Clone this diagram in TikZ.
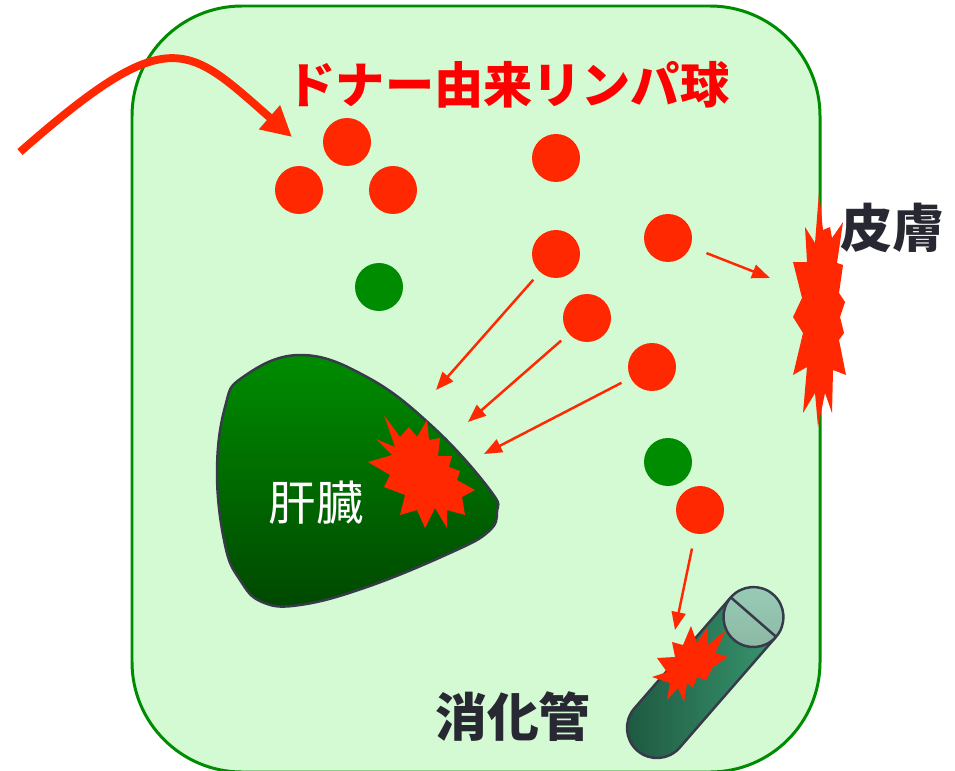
\documentclass[tikz,border=0pt]{standalone}
\usepackage{fontspec}
\setmainfont{Noto Sans CJK JP}
\usetikzlibrary{arrows.meta}

\definecolor{panelfill}{RGB}{212,250,212}
\definecolor{panelline}{RGB}{0,140,0}
\definecolor{cellred}{RGB}{255,40,0}
\definecolor{cellgreen}{RGB}{0,140,0}
\definecolor{titlered}{RGB}{255,0,0}
\definecolor{organline}{RGB}{55,58,72}
\definecolor{livertop}{RGB}{0,140,0}
\definecolor{liverbottom}{RGB}{0,72,0}
\definecolor{tubelight}{RGB}{56,150,110}
\definecolor{tubedark}{RGB}{30,88,64}
\definecolor{captop}{RGB}{152,204,182}
\definecolor{capbottom}{RGB}{140,184,164}
\definecolor{tagtext}{RGB}{40,40,50}

\begin{document}
\begin{tikzpicture}[x=0.02cm, y=-0.02cm]
    \tikzset{
        cell/.style     =   { circle
                            , inner sep=0pt
                            , minimum size=0.96cm
                            , fill=cellred
        }
        , host/.style   =   { cell
                            , fill=cellgreen
        }
        , hit/.style    =   { draw=cellred
                            , line width=1.4pt
                            , -{Triangle[length=0.36cm, width=0.28cm]}
                            , shorten <= 0.2cm
        }
        , burst/.style  =   { fill=cellred
                            , line join=miter
        }
        , organ/.style  =   { draw=organline
                            , line width=1.4pt
                            , line join=round
        }
        , tag/.style    =   { text=tagtext
                            , font=\bfseries\fontsize{29.5}{32}\selectfont
        }
    }
    \useasboundingbox (0,0) rectangle (955,770);
    \draw[fill=panelfill, draw=panelline, line width=1.7pt, rounded corners=2.2cm]
        (132,6) rectangle (820,772);

    \node[cell] (c1) at (347,142) {};
    \node[cell] (c2) at (299,190) {};
    \node[cell] (c3) at (393,190) {};
    \node[cell] (c4) at (556,158) {};
    \node[cell] (c5) at (668,238) {};
    \node[cell] (c6) at (556,254) {};
    \node[cell] (c7) at (587,318) {};
    \node[cell] (c8) at (652,367) {};
    \node[cell] (c9) at (700,510) {};
    \node[host] (g1) at (379,287) {};
    \node[host] (g2) at (668,462) {};

    \path[organ, top color=livertop, bottom color=liverbottom]
        plot[smooth cycle, tension=0.7] coordinates {(300,355) (367,377) (433,427) (490,490)
        (497,512) (488,532) (450,553) (367,587) (300,605) (262,602) (240,580) (225,545)
        (217,473) (225,407) (243,377)};
    \path[burst] (384,415) -- (400,437) -- (409,427) -- (417,437) -- (427,420) -- (429,440)
        -- (440,438) -- (438,456) -- (452,456) -- (449,467) -- (460,471) -- (457,480)
        -- (475,490) -- (462,497) -- (465,515) -- (447,510) -- (447,528) -- (435,508)
        -- (425,528) -- (417,510) -- (400,515) -- (405,495) -- (384,487) -- (390,475)
        -- (368,462) -- (392,455) -- (376,439) -- (395,447) -- cycle;
    \node[text=white, font=\fontsize{27}{30}\selectfont] (liver) at (316,503) {肝臓};

    \path[burst] (819,192) -- (823,230) -- (830,227) -- (832,238) -- (843,222)
        -- (837,263) -- (843,265) -- (839,293) -- (845,302) -- (840,317) -- (844,333)
        -- (839,340) -- (846,375) -- (833,370) -- (832,413) -- (825,393) -- (818,427)
        -- (815,393) -- (803,413) -- (807,367) -- (793,375) -- (803,333) -- (793,317)
        -- (802,298) -- (793,262) -- (807,262) -- (805,227) -- (815,243) -- cycle;

    \coordinate (tube) at (657,728);
    \begin{scope}[shift={(tube)}, x=0.02cm, y=0.02cm, rotate=49]
        \path[organ, left color=tubedark, right color=tubelight]
            (147,30) -- (0,30) arc[start angle=90, end angle=270, radius=30] -- (147,-30);
        \path[organ, top color=captop, bottom color=capbottom] (147,0) circle[radius=30];
        \draw[organ] (147,30) -- (147,-30);
    \end{scope}
    \path[burst] (691,626) -- (697,643) -- (707,628) -- (708,645) -- (726,630) -- (715,653)
        -- (728,657) -- (713,667) -- (706,680) -- (697,677) -- (693,688) -- (687,683)
        -- (684,702) -- (678,688) -- (667,700) -- (670,683) -- (652,677) -- (667,672)
        -- (657,658) -- (675,657) -- (672,642) -- (683,645) -- cycle;

    \coordinate (entry) at (20,152);
    \coordinate (drop)  at (292,137);
    \draw[draw=cellred, line width=4.5pt, -{Triangle[length=0.6cm, width=0.6cm]}]
        (entry) .. controls (170,20) and (187,45) .. (drop);

    \coordinate (t1) at (436,390);
    \coordinate (t2) at (468,422);
    \coordinate (t3) at (484,454);
    \coordinate (t4) at (770,278);
    \coordinate (t5) at (675,630);
    \draw[hit] (c6) -- (t1);
    \draw[hit] (c7) -- (t2);
    \draw[hit] (c8) -- (t3);
    \draw[hit, shorten <= 0.34cm] (c5) -- (t4);
    \draw[hit, shorten <= 0.3cm] (c9) -- (t5);

    \node[font=\bfseries\fontsize{28}{30}\selectfont, text=titlered] (title) at (508,85)
        {ドナー由来リンパ球};
    \node[tag] (skin) at (892,228) {皮膚};
    \node[tag] (gut)  at (513,717) {消化管};
\end{tikzpicture}
\end{document}
